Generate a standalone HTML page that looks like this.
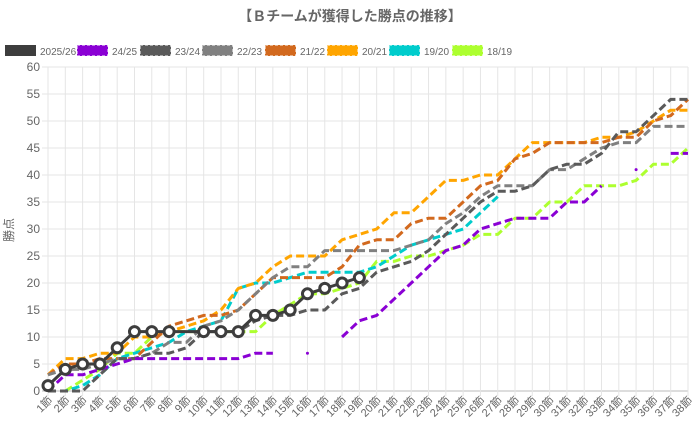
<!DOCTYPE html>
<html><head><meta charset="utf-8">
<style>
body{margin:0;background:#fff;width:700px;height:426px;overflow:hidden;font-family:"Liberation Sans","Noto Sans CJK JP",sans-serif}
svg text{font-family:"Liberation Sans","Noto Sans CJK JP",sans-serif}
</style></head><body>
<svg id="c" width="700" height="426"></svg>
<script>
const rounds=[];for(let i=1;i<=38;i++)rounds.push(i+'節');
const yTicks=[0,5,10,15,20,25,30,35,40,45,50,55,60];
const seasonNames=['2025/26','24/25','23/24','22/23','21/22','20/21','19/20','18/19'];
const s2526=[1,4,5,5,8,11,11,11,null,11,11,11,14,14,15,18,19,20,21];
const s2425=[0,3,3,4,5,6,6,6,6,6,6,6,7,7,null,7,null,10,13,14,17,20,23,26,27,30,31,32,32,32,35,35,38,null,41,null,44,44];
const s2324=[0,0,0,3,6,6,7,7,8,11,11,11,13,14,14,15,15,18,19,22,23,24,26,29,32,35,37,37,38,41,42,42,44,48,48,51,54,54];
const s2223=[3,4,4,5,6,6,7,9,9,12,13,15,18,21,23,23,26,26,26,26,26,27,28,31,33,36,38,38,38,41,41,43,45,46,46,49,49,49];
const s2122=[3,5,5,6,6,6,9,12,13,14,14,15,18,21,21,21,21,23,27,28,28,31,32,32,35,38,39,43,44,46,46,46,46,47,47,50,51,54];
const s2021=[3,6,6,7,7,10,10,11,12,13,15,19,20,23,25,25,25,28,29,30,33,33,36,39,39,40,40,43,46,46,46,46,47,47,48,50,52,52];
const s1920=[0,0,1,3,6,7,8,9,11,12,13,19,20,20,21,22,22,22,22,23,25,27,28,29,30,33,36];
const s1819=[null,0,2,4,7,7,10,11,11,11,11,11,11,14,16,18,18,19,20,24,24,25,25,26,27,29,29,32,32,35,35,38,38,38,39,42,42,45];
const seriesData=[s2526,s2425,s2324,s2223,s2122,s2021,s1920,s1819];
const colors=['#3d3d3d','#8a00d4','#5a5a5a','#808080','#d2691e','#ffa500','#00cccc','#adff2f'];
const NS='http://www.w3.org/2000/svg';
const svg=document.getElementById('c');
const L=48,R=688,T=67,B=391,YMAX=60;
const xs=i=>L+i*(R-L)/(rounds.length-1);
const ys=v=>B-v*(B-T)/YMAX;
function mk(tag,at,parent){const e=document.createElementNS(NS,tag);for(const k in at)e.setAttribute(k,at[k]);(parent||svg).appendChild(e);return e;}
let t=mk('text',{x:350,y:21,'text-anchor':'middle','font-size':'14','font-weight':'bold',fill:'#666'});t.textContent='【Ｂチームが獲得した勝点の推移】';


const grid=mk('g',{});


yTicks.forEach(v=>{mk('line',{x1:L-6,x2:R,y1:ys(v),y2:ys(v),stroke:v===0?'#bbb':'#e5e5e5','stroke-width':1},grid);
 const tx=mk('text',{x:40,y:ys(v)+4,'text-anchor':'end','font-size':'12',fill:'#666'});tx.textContent=v;
 
 });
rounds.forEach((r,i)=>{mk('line',{x1:xs(i),x2:xs(i),y1:T,y2:B+5,stroke:'#e5e5e5','stroke-width':1},grid);
 const tx=mk('text',{x:0,y:0,'text-anchor':'end','font-size':'11',fill:'#666',transform:`translate(${xs(i)+5},${B+10}) rotate(-45)`});tx.textContent=r;
 
 });
t=mk('text',{x:0,y:0,'font-size':'12',fill:'#666','text-anchor':'middle',transform:'translate(13,230) rotate(-90)'});t.textContent='勝点';


for(let s=seriesData.length-1;s>=0;s--){
 const d=seriesData[s];const span=(s===0);
 const g=mk('g',{});
 
 
 let segs=[],cur=[];
 d.forEach((v,i)=>{if(v==null){if(!span){if(cur.length)segs.push(cur);cur=[];}}else cur.push([xs(i),ys(v)]);});
 if(cur.length)segs.push(cur);
 segs.forEach(sg=>{
  if(sg.length===1){mk('circle',{cx:sg[0][0],cy:sg[0][1],r:1.5,fill:colors[s]},g);return;}
  const p=mk('polyline',{points:sg.map(q=>q.join(',')).join(' '),fill:'none',stroke:colors[s],'stroke-width':3,'stroke-linejoin':'round'},g);
  if(s>0)p.setAttribute('stroke-dasharray','8,4');
 });
 if(s===0){d.forEach((v,i)=>{if(v==null)return;const c=mk('circle',{cx:xs(i),cy:ys(v),r:5,fill:'#fff',stroke:colors[0],'stroke-width':3},g);
  
  });}
}
const lx=[5,77,140,202,265,327,389,452];
seasonNames.forEach((n,i)=>{
 const g=mk('g',{});
 
 
 const r=mk('rect',{x:lx[i],y:45,width:31,height:11,fill:colors[i]},g);
 if(i>0){r.setAttribute('stroke','#fff');r.setAttribute('stroke-dasharray','3,2');}
 const tx=mk('text',{x:lx[i]+35,y:55,'font-size':'10',fill:'#666'},g);tx.textContent=n;
});
</script>
</body></html>
